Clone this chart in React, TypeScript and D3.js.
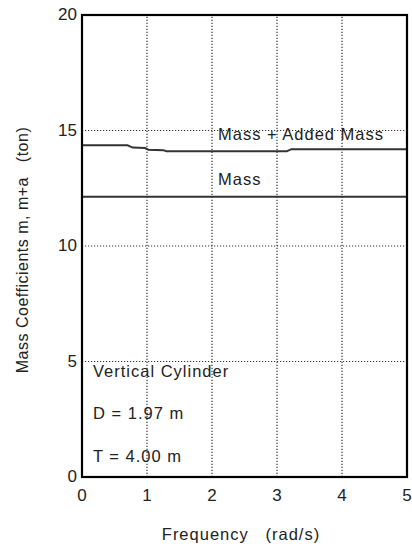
import React from "react";
import * as d3 from "d3";

// frequency (rad/s) and mass coefficients (ton)
const freqAdded = [0, 0.7, 0.78, 0.97, 1.02, 1.25, 1.3, 3.15, 3.22, 5];
const massAdded = [14.36, 14.36, 14.26, 14.24, 14.17, 14.15, 14.1, 14.1, 14.19, 14.19];
const freqMass = [0, 5];
const massOnly = [12.13, 12.13];
const xTicks = [0, 1, 2, 3, 4, 5];
const yTicks = [0, 5, 10, 15, 20];
const notes = ["Vertical Cylinder", "D = 1.97 m", "T = 4.00 m"];

const W = 412;
const H = 548;
const M = { left: 82, right: 5, top: 15, bottom: 71 };
const font = "'Liberation Sans', Arial, sans-serif";

const App = () => {
  const x = d3.scaleLinear().domain([0, 5]).range([M.left, W - M.right]);
  const y = d3.scaleLinear().domain([0, 20]).range([H - M.bottom, M.top]);
  const line = d3
    .line<[number, number]>()
    .x((d) => x(d[0]))
    .y((d) => y(d[1]));
  const addedPts = freqAdded.map((f, i) => [f, massAdded[i]] as [number, number]);
  const massPts = freqMass.map((f, i) => [f, massOnly[i]] as [number, number]);

  return (
    <svg
      width={W}
      height={H}
      style={{ position: "absolute", left: 0, top: 0, background: "#fff" }}
      fontFamily={font}
    >
      {/* grid */}
      {xTicks.slice(1, -1).map((t) => (
        <line key={"gx" + t} x1={x(t)} x2={x(t)} y1={y(0)} y2={y(20)}
          stroke="#333" strokeWidth={1.2} strokeDasharray="1.2,1.8" />
      ))}
      {yTicks.slice(1, -1).map((t) => (
        <line key={"gy" + t} x1={x(0)} x2={x(5)} y1={y(t)} y2={y(t)}
          stroke="#333" strokeWidth={1.2} strokeDasharray="1.2,1.8" />
      ))}

      {/* data */}
      <path d={line(addedPts) || ""} fill="none" stroke="#333" strokeWidth={2} />
      <path d={line(massPts) || ""} fill="none" stroke="#333" strokeWidth={2} />

      {/* frame */}
      <rect x={x(0)} y={y(20)} width={x(5) - x(0)} height={y(0) - y(20)}
        fill="none" stroke="#000" strokeWidth={2.2} />

      {/* tick labels */}
      {xTicks.map((t) => (
        <text key={"tx" + t} x={x(t)} y={y(0) + 24} textAnchor="middle"
          fontSize={17} fill="#222">{t}</text>
      ))}
      {yTicks.map((t) => (
        <text key={"ty" + t} x={x(0) - 5} y={y(t) + 1} textAnchor="end"
          dominantBaseline="middle" fontSize={17} fill="#222">{t}</text>
      ))}

      {/* series labels */}
      <text x={218} y={140} fontSize={16.5} letterSpacing={1} fill="#222">Mass + Added Mass</text>
      <text x={218} y={185} fontSize={16.5} letterSpacing={1} fill="#222">Mass</text>

      {/* notes */}
      {notes.map((n, i) => (
        <text key={n} x={93} y={377 + i * 42.3} fontSize={16.5} letterSpacing={1} fill="#222">{n}</text>
      ))}

      {/* axis titles */}
      <text x={241} y={540} textAnchor="middle" fontSize={16.5} letterSpacing={1} fill="#222"
        style={{ whiteSpace: "pre" }}>{"Frequency   (rad/s)"}</text>
      <text transform={`translate(28,250) rotate(-90)`} textAnchor="middle"
        fontSize={16} letterSpacing={0.5} fill="#222" style={{ whiteSpace: "pre" }}>
        {"Mass Coefficients m, m+a   (ton)"}
      </text>
    </svg>
  );
};

export default App;
